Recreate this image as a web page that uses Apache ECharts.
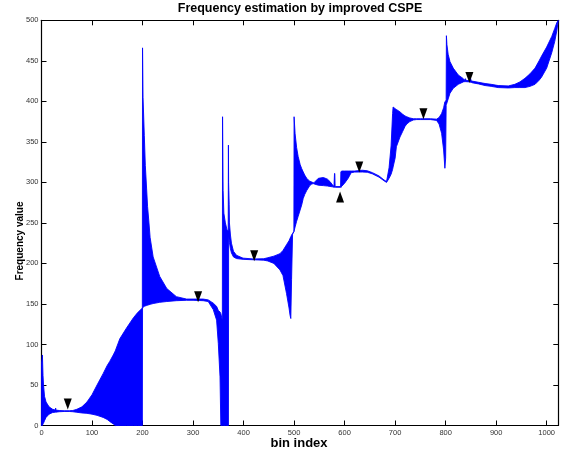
<!DOCTYPE html>
<html><head><meta charset="utf-8">
<script src="https://cdn.jsdelivr.net/npm/echarts@6/dist/echarts.min.js"></script>
<style>html,body{margin:0;padding:0;background:#fff}#c{width:567px;height:455px}</style>
</head><body><div id="c"></div>
<script>
// Envelope of the (densely oscillating) estimate curve: x, lower edge, upper edge
const bandX = [
  0, 1, 1.8, 3, 4, 6, 9, 15, 22, 27.5, 28, 28.5, 35, 45, 55, 62, 70, 80, 90, 100, 110, 122, 130, 135, 142, 146, 155, 168, 182, 190, 199.6,
  200, 201, 203.5, 205.5, 208, 210, 212.6, 215, 221, 234, 248, 267, 287, 300, 320, 330, 340, 346.6, 350, 353.4, 355, 358,
  358.4, 359.5, 361, 364, 367, 369.6, 370, 370.4, 370.8, 371.5, 372, 374, 376, 380, 386, 399,
  420, 440, 448, 460, 472, 478, 485, 490, 492, 493.5, 495, 497, 499.6,
  500, 502, 505, 508, 512, 515, 518, 521, 525, 528, 531, 535, 538, 540, 548, 558, 566, 571, 576, 579, 580, 580.6, 581.2, 582, 583, 592, 592.6, 593.4, 594, 600, 607, 613, 620, 635, 645, 655, 668, 678, 683,
  688, 692, 695, 696, 700, 702.5, 709.6, 715, 719.5, 723, 729, 736, 742.6, 750, 770, 782, 787, 792, 796, 798.5, 800, 801, 801.5, 802.5, 805, 808.6, 815, 825, 835,
  838, 839, 840, 847, 849.5, 850.5, 852, 865, 878, 890, 904, 924, 937, 947, 957, 967, 977, 985, 990, 1000, 1010, 1016, 1020, 1023
];
const bandLow = [
  0, 0, 0, 2, 3, 6, 10, 14, 16, 16.5, 16.5, 16.5, 17, 17.3, 17.3, 17, 16.3, 15.5, 15, 14, 12.5, 10, 7.5, 5, 2, 0, 0, 0, 0, 0, 0,
  145, 146, 147, 147.5, 148, 148.5, 149, 149.5, 150.5, 152, 153, 154, 154.5, 154.5, 154, 153, 143, 130, 101, 60, 0, 0,
  0, 0, 0, 0, 0, 0, 0, 235, 232, 229, 226, 218, 213, 208, 206, 205,
  204.5, 204, 203, 200, 192, 185, 163, 145, 136, 132, 180, 236, 239,
  240, 245, 252, 258, 266, 272, 280, 285, 290, 293, 296, 298, 298.5, 298, 296.5, 296, 295.5, 295, 294.5, 294, 294, 294, 294, 294, 294, 294, 294, 294, 295, 299, 305, 312, 312.7, 312.8, 312.5, 310.5, 306.5, 302, 300,
  305, 310, 316, 319, 330, 344, 356, 363, 369, 372, 375, 377, 377.5, 377.5, 377.5, 376.5, 372, 360.6, 340, 317.4, 330, 395, 396, 398, 403, 410, 416, 421, 424,
  424.3, 424.3, 424.3, 424, 423.5, 423.5, 423, 421.5, 419.5, 418.5, 417, 416.5, 417, 417, 417, 418.5, 421, 426, 430, 441, 460, 474, 487, 500
];
const bandHigh = [
  77, 82, 87, 62, 50, 36, 29, 23, 20, 19, 21.5, 19, 18.5, 18.2, 18.2, 18.5, 20, 23, 29, 38, 50, 64, 74, 79, 87, 92, 107, 120, 133, 139, 145,
  466, 405, 358, 321, 293, 270, 251, 232, 208, 184, 169, 159, 156, 156, 156, 155, 151, 147, 142, 140, 138, 130,
  381, 290, 262, 250, 242, 240, 346, 300, 290, 273, 250, 235, 225, 215, 210, 206.5,
  205.5, 205.8, 207, 209, 212, 216, 223, 228, 231, 233, 235, 237, 239.5,
  381, 360, 343, 332, 322, 317, 313, 309, 305, 303, 301.5, 300.5, 299.5, 300, 305, 306, 304, 301, 297, 295, 311, 311, 295, 294.8, 294.8, 294.8, 313, 313, 314, 314, 314, 314, 314, 315, 314.3, 312, 308, 303, 301,
  318, 345, 385, 393, 391, 390, 387, 384, 382, 381, 379.5, 378.5, 378.5, 378.5, 378.5, 378, 380, 385, 392, 399.6, 400, 402, 481, 470, 458, 449, 441, 432.5, 428,
  426, 428, 426, 425.5, 428, 425.5, 425, 423.5, 422, 421, 419.5, 419, 421, 424, 428.4, 434, 441, 450, 456, 467, 480, 490, 497, 500
];
// Marker triangles
const downMarkX = [52, 310, 421, 629, 756, 847];
const downMarkY = [26.5, 159, 209.4, 319, 384.6, 429.4];
const upMarkX = [591];
const upMarkY = [282];

const xMin = 0, xMax = 1023, xStep = 100;
const yMin = 0, yMax = 500, yStep = 50;

const bandData = bandX.map((x, i) => [x, bandLow[i], bandHigh[i]]);
const downData = downMarkX.map((x, i) => [x, downMarkY[i]]);
const upData = upMarkX.map((x, i) => [x, upMarkY[i]]);

const FONT = '"Liberation Sans", Arial, Helvetica, sans-serif';
const chart = echarts.init(document.getElementById('c'), null, {renderer: 'canvas'});

function xAx(pos, showLabel) {
  return {
    type: 'value', position: pos, min: xMin, max: xMax, interval: xStep,
    axisLine: {onZero: false, lineStyle: {color: '#000', width: 1.2}},
    axisTick: {inside: true, length: 5, lineStyle: {color: '#000', width: 1}},
    axisLabel: {show: showLabel, fontSize: 7.5, color: '#333', margin: 3, fontFamily: FONT,
      showMaxLabel: false, formatter: v => (v % xStep === 0 ? String(v) : '')},
    splitLine: {show: false}
  };
}
function yAx(pos, showLabel) {
  return {
    type: 'value', position: pos, min: yMin, max: yMax, interval: yStep,
    axisLine: {onZero: false, lineStyle: {color: '#000', width: 1.2}},
    axisTick: {inside: true, length: 5, lineStyle: {color: '#000', width: 1}},
    axisLabel: {show: showLabel, fontSize: 7.5, color: '#333', margin: 3, fontFamily: FONT},
    splitLine: {show: false}
  };
}

chart.setOption({
  animation: false,
  backgroundColor: '#fff',
  grid: {left: 41.5, right: 8.7, top: 20.3, bottom: 29.5, containLabel: false, outerBoundsMode: 'none'},
  xAxis: [xAx('bottom', true), xAx('top', false)],
  yAxis: [yAx('left', true), yAx('right', false)],
  graphic: [
    {type: 'text', x: 300, y: 8.5, style: {text: 'Frequency estimation by improved CSPE', fontSize: 12.5, fontWeight: 'bold', fontFamily: FONT, fill: '#000', align: 'center', verticalAlign: 'middle'}},
    {type: 'text', x: 299, y: 443, style: {text: 'bin index', fontSize: 13, fontWeight: 'bold', fontFamily: FONT, fill: '#000', align: 'center', verticalAlign: 'middle'}},
    {type: 'text', x: 20, y: 241, rotation: Math.PI / 2, style: {text: 'Frequency value', fontSize: 10, fontWeight: 'bold', fontFamily: FONT, fill: '#000', align: 'center', verticalAlign: 'middle'}}
  ],
  series: [
    {
      type: 'custom', xAxisIndex: 0, yAxisIndex: 0, silent: true,
      data: bandData,
      encode: {x: 0, y: [1, 2]},
      renderItem: function (params, api) {
        if (params.dataIndex !== 0) return null;
        const pts = [];
        for (let i = 0; i < bandData.length; i++) pts.push(api.coord([bandData[i][0], bandData[i][2]]));
        for (let i = bandData.length - 1; i >= 0; i--) pts.push(api.coord([bandData[i][0], bandData[i][1]]));
        return {type: 'polygon', shape: {points: pts},
          style: {fill: '#0000ff', stroke: '#0000ff', lineWidth: 0.9, lineJoin: 'bevel'}};
      }
    },
    {type: 'scatter', data: downData, symbol: 'triangle', symbolRotate: 180, symbolSize: [8, 11],
      itemStyle: {color: '#000', opacity: 1}, silent: true, z: 5},
    {type: 'scatter', data: upData, symbol: 'triangle', symbolRotate: 0, symbolSize: [8, 11],
      itemStyle: {color: '#000', opacity: 1}, silent: true, z: 5}
  ]
});
</script></body></html>
